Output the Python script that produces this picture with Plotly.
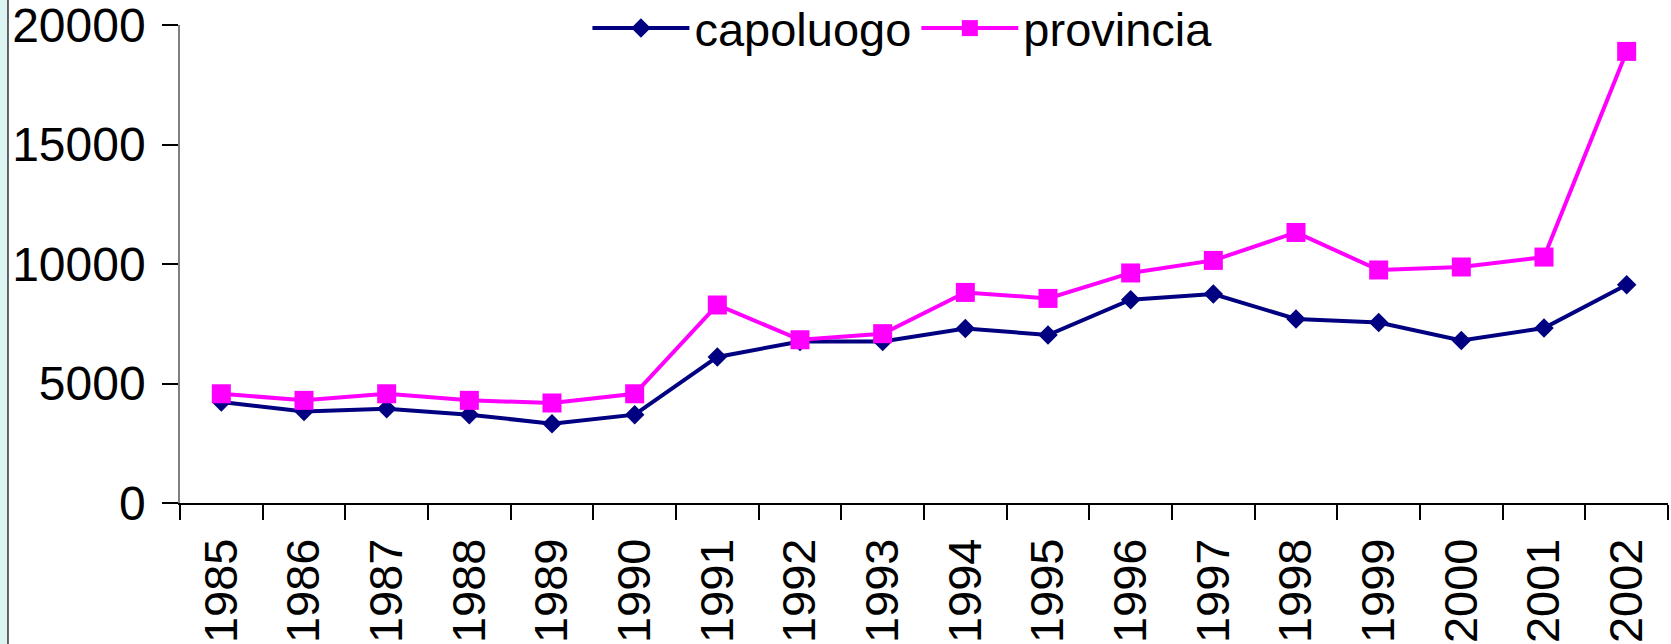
import plotly.graph_objects as go

years = [str(y) for y in range(1985, 2003)]
capoluogo = [4230, 3830, 3945, 3695, 3320, 3695, 6110, 6760, 6760, 7305, 7030,
             8505, 8745, 7700, 7555, 6800, 7320, 9135]
provincia = [4570, 4295, 4570, 4295, 4185, 4570, 8285, 6830, 7085, 8810, 8560,
             9625, 10150, 11320, 9750, 9875, 10290, 18895]
y_ticks = [0, 5000, 10000, 15000, 20000]

FONT = "Liberation Sans, Arial, sans-serif"

fig = go.Figure()
fig.add_trace(go.Scatter(
    x=years, y=capoluogo, name="capoluogo", mode="lines+markers",
    line=dict(color="#000080", width=4),
    marker=dict(symbol="diamond", size=15, color="#000080"),
))
fig.add_trace(go.Scatter(
    x=years, y=provincia, name="provincia", mode="lines+markers",
    line=dict(color="#FF00FF", width=4),
    marker=dict(symbol="square", size=19, color="#FF00FF"),
))

fig.update_layout(
    width=1671, height=644,
    margin=dict(l=180, r=3, t=25, b=141, autoexpand=False),
    paper_bgcolor="white", plot_bgcolor="white",
    font=dict(family=FONT, size=47, color="black"),
    showlegend=True,
    legend=dict(orientation="h", x=0.2738, xanchor="left", y=1.071, yanchor="top",
                font=dict(size=47), bgcolor="rgba(0,0,0,0)",
                itemwidth=97, tracegroupgap=0),
    shapes=[
        dict(type="rect", xref="paper", yref="paper",
             x0=-0.121, x1=-0.1156, y0=-0.3, y1=1.06,
             fillcolor="#DDF5F2", line=dict(width=0), layer="below"),
        dict(type="line", xref="paper", yref="paper",
             x0=-0.1156, x1=-0.1156, y0=-0.3, y1=1.06,
             line=dict(color="#333333", width=1.5)),
    ],
)

fig.update_xaxes(
    type="category", range=[-0.5, 17.5], automargin=False,
    tickangle=-90, showgrid=False,
    showline=True, linecolor="black", linewidth=1.5,
    ticks="outside", tickson="boundaries", ticklen=15, tickcolor="black", tickwidth=1.5,
    tickfont=dict(family=FONT, size=47, color="black"),
    ticklabelstandoff=15, ticklabeloverflow="allow",
)
fig.update_yaxes(
    range=[0, 20000], tickvals=y_ticks, ticktext=[str(v) for v in y_ticks],
    automargin=False, showgrid=False, zeroline=False,
    showline=True, linecolor="#808080", linewidth=1.5,
    ticks="outside", ticklen=16, tickcolor="black", tickwidth=1.5,
    tickfont=dict(family=FONT, size=48, color="black"),
    ticklabelstandoff=7, ticklabeloverflow="allow",
)

fig.write_html("out.html", config={"displayModeBar": False},
               post_script="document.body.style.margin='0';")
